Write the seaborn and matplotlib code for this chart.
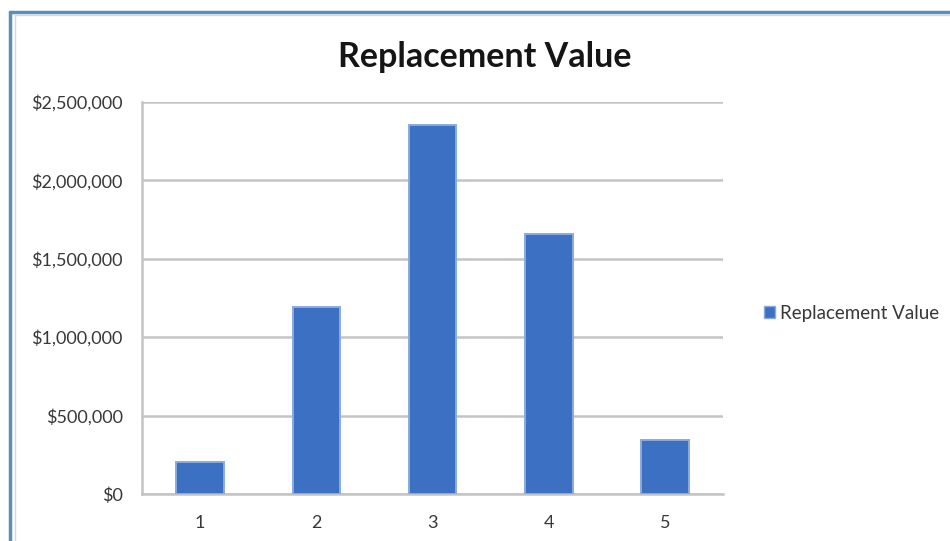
import matplotlib
matplotlib.use("Agg")
import matplotlib.pyplot as plt
import matplotlib.ticker as mticker
from matplotlib.lines import Line2D
from matplotlib.patches import Patch
import seaborn as sns
import pandas as pd

categories = ["1", "2", "3", "4", "5"]
values = [205000, 1190000, 2350000, 1655000, 345000]
series_name = "Replacement Value"
y_ticks = [0, 500000, 1000000, 1500000, 2000000, 2500000]

sns.set_style("white")
plt.rcParams["font.family"] = ["Lato", "DejaVu Sans"]

df = pd.DataFrame({"cat": categories, "val": values})

fig = plt.figure(figsize=(9.5, 5.41), dpi=100)
ax = fig.add_axes([0.1495, 0.0869, 0.6116, 0.7246])

bar_color = "#3b70c2"
sns.barplot(data=df, x="cat", y="val", color=bar_color, width=0.41,
            edgecolor="#8aabdc", linewidth=1.4, saturation=1, ax=ax, zorder=3)

ax.set_xlim(-0.5, len(categories) - 0.5)
ax.set_ylim(0, 2500000)
ax.set_yticks(y_ticks)
ax.yaxis.set_major_formatter(mticker.FuncFormatter(lambda v, p: f"${v:,.0f}"))
ax.set_xlabel("")
ax.set_ylabel("")

grid_c = "#c4c4c4"
ax.grid(axis="y", color=grid_c, linewidth=1.8, zorder=0)
ax.set_axisbelow(True)
for s in ["top", "right"]:
    ax.spines[s].set_visible(False)
for s in ["left", "bottom"]:
    ax.spines[s].set_color(grid_c)
    ax.spines[s].set_linewidth(1.8)

text_c = "#383838"
ax.tick_params(axis="y", length=6, color=grid_c, width=1.4, direction="out",
               labelsize=13, labelcolor=text_c, pad=8)
ax.tick_params(axis="x", which="major", length=0, labelsize=13,
               labelcolor=text_c, pad=15)
ax.set_xticks([i + 0.5 for i in range(-1, len(categories))], minor=True)
ax.tick_params(axis="x", which="minor", length=6, color=grid_c, width=1.4,
               direction="out")

fig.text(0.51, 0.895, series_name, ha="center", va="center",
         fontsize=24.5, fontweight="bold", color="#151515")

handle = Patch(facecolor=bar_color, edgecolor="#8aabdc")
fig.legend([handle], [series_name], loc="center left",
           bbox_to_anchor=(0.786, 0.421), frameon=False, fontsize=13.5,
           handlelength=0.6, handleheight=0.6, handletextpad=0.3,
           labelcolor=text_c)

# window frame along the top and left edges
frame_c = "#5b8fb3"
fig.add_artist(Line2D([0.011, 1.0], [0.978, 0.978], color=frame_c,
                      linewidth=2.5, transform=fig.transFigure))
fig.add_artist(Line2D([0.011, 0.011], [0.0, 0.978], color=frame_c,
                      linewidth=2.5, transform=fig.transFigure))
fig.add_artist(Line2D([0.016, 1.0], [0.972, 0.972], color="#d0d8de",
                      linewidth=1.0, transform=fig.transFigure))
fig.add_artist(Line2D([0.016, 0.016], [0.0, 0.972], color="#d0d8de",
                      linewidth=1.0, transform=fig.transFigure))

fig.savefig("out.png", dpi=100)
